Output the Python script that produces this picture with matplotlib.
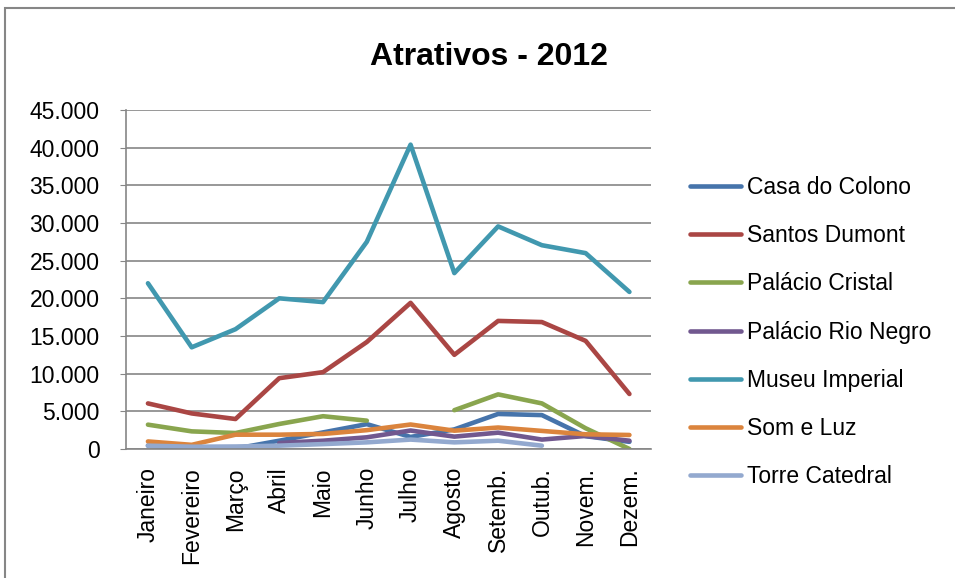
import numpy as np
import matplotlib.pyplot as plt
from matplotlib.patches import Rectangle
from matplotlib.ticker import FuncFormatter

plt.rcParams['font.family'] = ['Liberation Sans', 'DejaVu Sans']

meses = ['Janeiro', 'Fevereiro', 'Março', 'Abril', 'Maio', 'Junho', 'Julho',
         'Agosto', 'Setemb.', 'Outub.', 'Novem.', 'Dezem.']

nan = np.nan
casa_do_colono = [450, 50, 50, 1100, 2200, 3300, 1600, 2600, 4650, 4500, 1700, 950]
santos_dumont = [6050, 4720, 3980, 9400, 10200, 14200, 19400, 12500, 17000, 16850, 14350, 7300]
palacio_cristal = [3230, 2340, 2120, 3320, 4350, 3760, nan, 5150, 7250, 6050, 2750, 0]
palacio_rio_negro = [nan, nan, nan, 800, 1100, 1550, 2450, 1640, 2170, 1250, 1730, 1100]
museu_imperial = [22000, 13500, 15900, 20000, 19500, 27500, 40400, 23350, 29550, 27050, 26000, 20850]
som_e_luz = [1000, 550, 1900, 1900, 2000, 2500, 3250, 2430, 2850, 2400, 1950, 1860]
torre_catedral = [440, 300, 330, 440, 650, 880, 1250, 880, 1100, 440, nan, nan]

series = [
    ('Casa do Colono', casa_do_colono, '#4674AB'),
    ('Santos Dumont', santos_dumont, '#AA4644'),
    ('Palácio Cristal', palacio_cristal, '#89A54E'),
    ('Palácio Rio Negro', palacio_rio_negro, '#71588F'),
    ('Museu Imperial', museu_imperial, '#4198AF'),
    ('Som e Luz', som_e_luz, '#DB843D'),
    ('Torre Catedral', torre_catedral, '#93A9CF'),
]

fig = plt.figure(figsize=(9.55, 5.78), dpi=100)
ax = fig.add_axes([0.132, 0.2232, 0.550, 0.5865])

x = np.arange(len(meses))
for nome, vals, cor in series:
    ax.plot(x, vals, color=cor, lw=3.3, label=nome, solid_capstyle='round',
            solid_joinstyle='round')

ax.set_xlim(-0.5, len(meses) - 0.5)
ax.set_ylim(0, 45000)
ax.set_yticks(np.arange(0, 45001, 5000))
ax.yaxis.set_major_formatter(FuncFormatter(lambda v, p: f'{int(v):,}'.replace(',', '.')))
ax.set_xticks(x)
ax.set_xticklabels(meses, rotation=90, fontsize=16.5)
ax.tick_params(axis='y', labelsize=16.5, length=4, color='#868686', pad=15)
ax.tick_params(axis='x', length=0, pad=13)
ax.grid(axis='y', color='#868686', lw=1.2)
ax.set_axisbelow(True)
for s in ['top', 'right']:
    ax.spines[s].set_visible(False)
for s in ['left', 'bottom']:
    ax.spines[s].set_color('#868686')
    ax.spines[s].set_linewidth(1.2)

fig.text(0.512, 0.902, 'Atrativos - 2012', ha='center', va='center',
         fontsize=23, fontweight='bold')

ax.legend(loc='center left', bbox_to_anchor=(1.035, 0.345), frameon=False,
          fontsize=16.5, handlelength=2.2, handletextpad=0.26, labelspacing=1.1)

fig.patches.append(Rectangle((5 / 955, -0.05), 1.1, 1 - 8 / 578 + 0.05,
                             transform=fig.transFigure, fill=False,
                             edgecolor='#868686', lw=1.5, clip_on=False))

fig.savefig('out.png', dpi=100)
